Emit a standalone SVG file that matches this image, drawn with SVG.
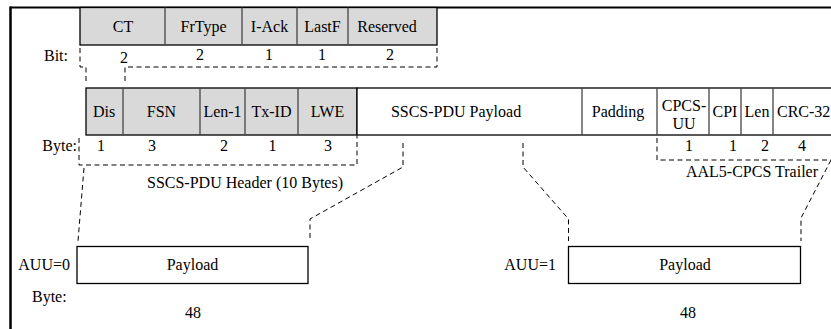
<svg xmlns="http://www.w3.org/2000/svg" width="831" height="329" viewBox="0 0 831 329">
  <style>
    text { font-family: "Liberation Serif", "Times New Roman", serif; font-size: 16px; fill: #000; }
    .c { text-anchor: middle; }
    .r { text-anchor: end; }
    .grey { fill: #d9d9d9; stroke: #000; stroke-width: 1.3; }
    .white { fill: #fff; stroke: #000; stroke-width: 1.3; }
    .div { stroke: #444; stroke-width: 1.3; fill: none; }
    .dash { fill: none; stroke: #000; stroke-width: 1; stroke-dasharray: 5 3.5; }
    .frame { stroke: #000; fill: none; }
  </style>

  <!-- page frame -->
  <g id="frame">
    <line class="frame" x1="10" y1="7.5" x2="831" y2="7.5" stroke-width="2"/>
    <line class="frame" x1="10.5" y1="6.5" x2="10.5" y2="329" stroke-width="2.5"/>
  </g>

  <!-- first byte broken into bit fields -->
  <g id="bit-fields">
    <rect class="grey" x="80" y="7.5" width="357" height="37.5"/>
    <line class="div" x1="165" y1="7.5" x2="165" y2="45"/>
    <line class="div" x1="242" y1="7.5" x2="242" y2="45"/>
    <line class="div" x1="297" y1="7.5" x2="297" y2="45"/>
    <line class="div" x1="348" y1="7.5" x2="348" y2="45"/>
    <text class="c" x="123" y="32">CT</text>
    <text class="c" x="203.5" y="32">FrType</text>
    <text class="c" x="269.5" y="32">I-Ack</text>
    <text class="c" x="322.5" y="32">LastF</text>
    <text class="c" x="387" y="32">Reserved</text>
    <text class="r" x="68" y="61">Bit:</text>
    <text class="c" x="124" y="63">2</text>
    <text class="c" x="200" y="60">2</text>
    <text class="c" x="269" y="60">1</text>
    <text class="c" x="322" y="60">1</text>
    <text class="c" x="390" y="60">2</text>
  </g>

  <!-- SSCS-PDU with AAL5-CPCS trailer -->
  <g id="pdu">
    <rect class="grey" x="86" y="88" width="271" height="47"/>
    <rect class="white" x="357" y="88" width="480" height="47"/>
    <line class="div" x1="123" y1="88" x2="123" y2="135"/>
    <line class="div" x1="200" y1="88" x2="200" y2="135"/>
    <line class="div" x1="245" y1="88" x2="245" y2="135"/>
    <line class="div" x1="298" y1="88" x2="298" y2="135"/>
    <line class="div" x1="582" y1="88" x2="582" y2="135"/>
    <line class="div" x1="657" y1="88" x2="657" y2="135" stroke="#777" stroke-width="2"/>
    <line class="div" x1="709" y1="88" x2="709" y2="135" stroke="#777" stroke-width="2"/>
    <line class="div" x1="741" y1="88" x2="741" y2="135"/>
    <line class="div" x1="773" y1="88" x2="773" y2="135" stroke="#777" stroke-width="2"/>
    <text class="c" x="104" y="117">Dis</text>
    <text class="c" x="161.5" y="117">FSN</text>
    <text class="c" x="222.5" y="117">Len-1</text>
    <text class="c" x="271.5" y="117">Tx-ID</text>
    <text class="c" x="327.5" y="117">LWE</text>
    <text class="c" x="456" y="117">SSCS-PDU Payload</text>
    <text class="c" x="618" y="117">Padding</text>
    <text class="c" x="684" y="111">CPCS-</text>
    <text class="c" x="684" y="129">UU</text>
    <text class="c" x="725" y="117">CPI</text>
    <text class="c" x="757" y="117">Len</text>
    <text x="777" y="117">CRC-32</text>
    <text class="r" x="77" y="151">Byte:</text>
    <text class="c" x="101" y="151">1</text>
    <text class="c" x="152" y="151">3</text>
    <text class="c" x="224" y="151">2</text>
    <text class="c" x="272.5" y="151">1</text>
    <text class="c" x="328" y="151">3</text>
    <text class="c" x="689" y="151">1</text>
    <text class="c" x="733" y="151">1</text>
    <text class="c" x="765" y="151">2</text>
    <text class="c" x="802" y="151">4</text>
    <text class="c" x="245" y="188">SSCS-PDU Header (10 Bytes)</text>
    <text class="c" x="752" y="177">AAL5-CPCS Trailer</text>
  </g>

  <!-- first ATM cell payload -->
  <g id="cell-auu0">
    <rect class="white" x="77" y="246.5" width="231" height="37"/>
    <text class="c" x="192.5" y="270">Payload</text>
    <text class="r" x="70" y="270">AUU=0</text>
    <text x="32" y="302">Byte:</text>
    <text class="c" x="193" y="318">48</text>
  </g>

  <!-- last ATM cell payload -->
  <g id="cell-auu1">
    <rect class="white" x="568.5" y="246.5" width="232" height="37"/>
    <text class="c" x="685" y="270">Payload</text>
    <text class="r" x="556" y="270">AUU=1</text>
    <text class="c" x="688" y="318">48</text>
  </g>

  <!-- dashed brackets and mapping lines -->
  <g id="connectors">
    <path class="dash" d="M80,48 V67 H86 V82"/>
    <path class="dash" d="M437,48 V67 H125 V82"/>
    <path class="dash" d="M79,138 V165 H357 V136"/>
    <path class="dash" d="M84,168 L78,241"/>
    <path class="dash" d="M403,143 V167 L310,219 V241"/>
    <path class="dash" d="M523,143 V167 L568.5,219 V241"/>
    <path class="dash" d="M657,138 V160 H831"/>
    <path class="dash" d="M831,160 L801,218 V241"/>
  </g>
</svg>
